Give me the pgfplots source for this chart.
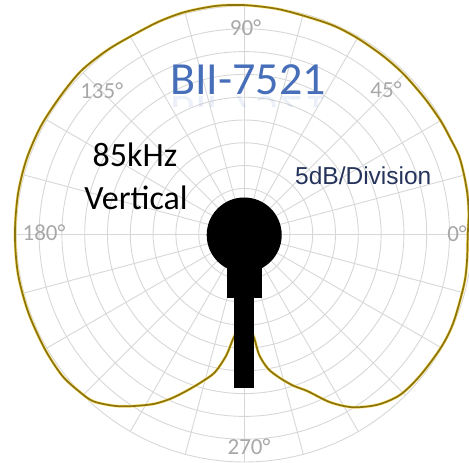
\documentclass[border=0pt]{standalone}
\usepackage{pgfplots}
\usepackage{pgfplotstable}
\pgfplotsset{compat=1.18}
\usepackage{fontspec}
\setmainfont{Carlito}
\newfontfamily\arialf{Liberation Sans}
\definecolor{gridc}{RGB}{215,215,215}
\definecolor{curvec}{RGB}{140,115,12}
\definecolor{haloc}{RGB}{250,225,110}
\definecolor{titlec}{RGB}{70,110,185}
\definecolor{divc}{RGB}{38,52,92}
\definecolor{anglec}{RGB}{168,168,168}
\pgfplotstableread{
ang db
0 -1.0
5 -0.6
10 -0.3
15 -0.1
20 0.1
25 -0.2
30 -0.3
37 -0.5
45 -0.5
52 -0.5
60 -0.4
67 -0.3
75 -0.4
82 -0.1
90 0.2
97 0.4
105 0.4
112 0.2
120 0.0
127 0.3
135 0.6
143 0.4
152 0.5
161 0.5
170 0.4
180 0.3
190 0.4
200 0.4
210 0.5
218 0.6
224 0.0
228 -0.6
233 -2.8
237 -5.0
242 -7.8
246 -10.5
250 -13.5
254 -16.3
258 -19.0
261.5 -23.0
264 -27.0
267 -29.5
270 -30.5
273 -29.5
275.5 -27.0
277 -23.3
280 -20.0
284 -17.4
288 -15.0
292 -12.8
297 -8.6
302 -5.2
308 -2.5
314 -0.9
321 -0.5
330 -0.2
337 -0.2
347 -0.55
353 -0.8
360 -1.0
}\micdata
\begin{document}
\begin{tikzpicture}
\path[use as bounding box] (0pt,0pt) rectangle (469pt,463pt);
\clip (0pt,0pt) rectangle (469pt,463pt);
% polar grid: 10 rings of 5 dB, spokes every 15 degrees
\foreach \k in {1,...,10} \draw[gridc, line width=0.9pt] (244.3pt,229pt) circle (22.8pt*\k);
\foreach \a in {0,15,...,345} \draw[gridc, line width=0.9pt] (244.3pt,229pt) -- ++(\a:228pt);
\begin{axis}[
  at={(244.3pt,229pt)}, anchor=center,
  x=4.56pt, y=4.56pt,
  xmin=-50, xmax=50, ymin=-50, ymax=50,
  hide axis, clip=false,
]
\addplot[haloc, line width=2.8pt, smooth, tension=0.5, data cs=polar] table[x=ang, y expr=\thisrow{db}+50] {\micdata};
\addplot[curvec, line width=1.7pt, smooth, tension=0.5, data cs=polar] table[x=ang, y expr=\thisrow{db}+50] {\micdata};
\end{axis}
% microphone
\fill[black] (244.2pt,228pt) circle (37.5pt);
\fill[black] (226.7pt,164.7pt) rectangle (261.7pt,205pt);
\fill[black] (234.3pt,74.7pt) rectangle (254pt,165pt);
% angle labels
\node[anglec, font=\fontsize{23}{23}\selectfont, inner sep=0pt] at (457pt,229pt) {0°};
\node[anglec, font=\fontsize{23}{23}\selectfont, inner sep=0pt] at (386pt,373pt) {45°};
\node[anglec, font=\fontsize{23}{23}\selectfont, inner sep=0pt] at (245.5pt,435pt) {90°};
\node[anglec, font=\fontsize{23}{23}\selectfont, inner sep=0pt] at (101.7pt,372pt) {135°};
\node[anglec, font=\fontsize{23}{23}\selectfont, inner sep=0pt] at (44pt,230pt) {180°};
\node[anglec, font=\fontsize{23}{23}\selectfont, inner sep=0pt] at (249pt,16pt) {270°};
% title
\node[titlec, font=\fontsize{46}{46}\selectfont, anchor=base, inner sep=0pt] at (248pt,368pt) {BII-7521};
\begin{scope}
\clip (150pt,356pt) rectangle (350pt,366pt);
\node[titlec, opacity=0.1, font=\fontsize{46}{46}\selectfont, anchor=base, inner sep=0pt, yscale=-1] at (248pt,366pt) {BII-7521};
\end{scope}
\node[black, font=\fontsize{34}{34}\selectfont, anchor=base, inner sep=0pt] at (135pt,296.3pt) {85kHz};
\node[black, font=\fontsize{34}{34}\selectfont, anchor=base, inner sep=0pt] at (136pt,253pt) {Vertical};
\node[divc, font=\arialf\fontsize{24.5}{24.5}\selectfont, anchor=base, inner sep=0pt] at (363.3pt,278pt) {5dB/Division};
\end{tikzpicture}
\end{document}
